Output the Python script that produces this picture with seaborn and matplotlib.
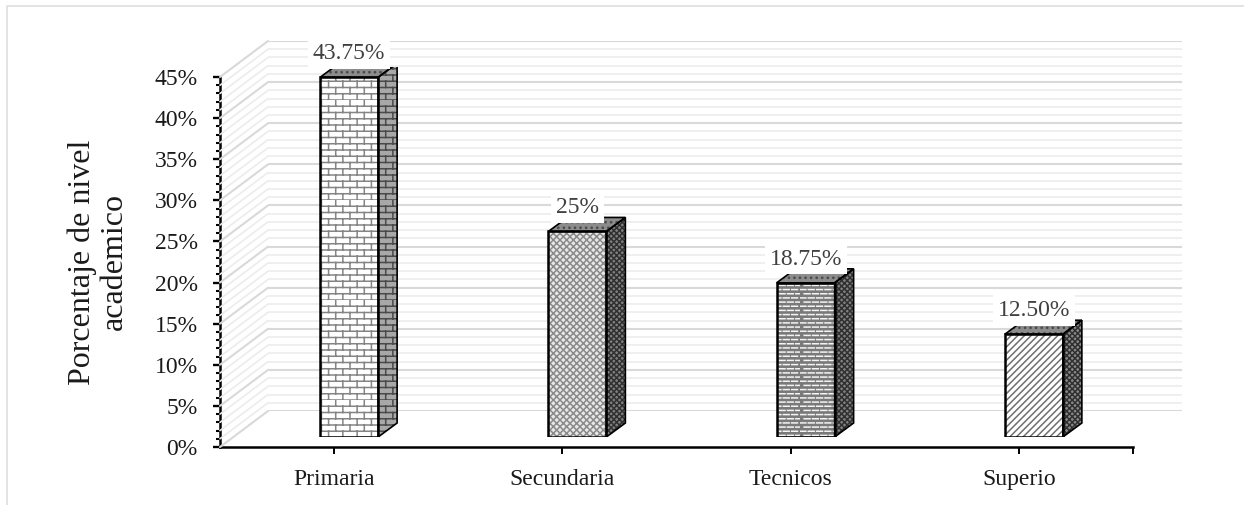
import numpy as np
import matplotlib
matplotlib.use("Agg")
import matplotlib.pyplot as plt
import matplotlib.hatch as mhatch
from matplotlib.path import Path
from matplotlib.patches import Polygon
from matplotlib.lines import Line2D
from matplotlib.ticker import MultipleLocator, PercentFormatter
import seaborn as sns

categories = ["Primaria", "Secundaria", "Tecnicos", "Superio"]
values = [43.75, 25, 18.75, 12.5]
value_labels = ["43.75%", "25%", "18.75%", "12.50%"]
y_ticks = [0, 5, 10, 15, 20, 25, 30, 35, 40, 45]


# brick and dash patterns are not in matplotlib, so add them
class BrickHatch(mhatch.HatchPatternBase):
    def __init__(self, hatch, density):
        self.num_vertices = 0
        self.rows = 16
        self.cols = 7
        if "B" in hatch:
            self.num_vertices = 2 * (self.rows + self.rows * self.cols)

    def set_vertices_and_codes(self, vertices, codes):
        v = []
        for r in range(self.rows):
            y0 = r / self.rows
            y1 = (r + 1) / self.rows
            v += [(0, y0), (1, y0)]
            shift = 0.5 * (r % 2)
            for c in range(self.cols):
                x = (c + shift) / self.cols
                v += [(x, y0), (x, y1)]
        vertices[:] = v
        codes[0::2] = Path.MOVETO
        codes[1::2] = Path.LINETO


class DashHatch(mhatch.HatchPatternBase):
    def __init__(self, hatch, density):
        self.num_vertices = 0
        self.rows = 24
        self.cols = 12
        if "D" in hatch:
            self.num_vertices = 2 * self.rows * self.cols

    def set_vertices_and_codes(self, vertices, codes):
        v = []
        for r in range(self.rows):
            y = (r + 0.5) / self.rows
            shift = 0.5 * (r % 2)
            for c in range(self.cols):
                x = (c + shift) / self.cols
                v += [(x, y), (min(x + 0.7 / self.cols, 1), y)]
        vertices[:] = v
        codes[0::2] = Path.MOVETO
        codes[1::2] = Path.LINETO


mhatch._hatch_types += [BrickHatch, DashHatch]
mhatch._validate_hatch_pattern = lambda h: None

sns.set_theme(style="white")
plt.rcParams["font.family"] = ["Liberation Serif", "DejaVu Serif"]
plt.rcParams["hatch.linewidth"] = 1.1

W, H = 1244, 505
fig = plt.figure(figsize=(W / 100, H / 100), dpi=100, facecolor="white")


def px_axes(x0, x1, ytop, ybot, **kw):
    return fig.add_axes([x0 / W, 1 - ybot / H, (x1 - x0) / W, (ybot - ytop) / H], **kw)


# figure border, only left and top show
fig.add_artist(Line2D([6.5 / W, 6.5 / W, 1], [0, 1 - 5.5 / H, 1 - 5.5 / H], transform=fig.transFigure,
                      color="#dedede", lw=1.2))

# back wall with the gridlines
wall = px_axes(268, 1182, 41, 411)
wall.set_xlim(0, 1)
wall.set_ylim(0, 45)
wall.patch.set_alpha(0)
wall.set_xticks([])
wall.yaxis.set_major_locator(MultipleLocator(5))
wall.yaxis.set_minor_locator(MultipleLocator(1))
wall.tick_params(which="both", left=False, labelleft=False)
wall.grid(which="major", axis="y", color="#d9d9d9", lw=1.5)
wall.grid(which="minor", axis="y", color="#ececec", lw=1.2)
sns.despine(ax=wall, left=True, bottom=True)

# front axes, only spines and tick labels
frame = px_axes(220, 1133, 77, 447)
frame.patch.set_alpha(0)
frame.set_xlim(-0.5, 3.5)
frame.set_ylim(0, 45)
frame.set_yticks(y_ticks)
frame.yaxis.set_major_formatter(PercentFormatter(decimals=0))
frame.yaxis.set_minor_locator(MultipleLocator(1))
frame.set_xticks(list(range(len(categories))) + [3.5])
frame.set_xticklabels(categories + [""])
frame.tick_params(axis="y", which="major", length=5, width=1.7, color="black", labelsize=17,
                  labelcolor="#1a1a1a", pad=11, direction="out", left=True)
frame.tick_params(axis="y", which="minor", length=3, width=1.5, color="black", direction="out", left=True)
frame.tick_params(axis="x", length=5, width=1.4, color="black", labelsize=17, labelcolor="#1a1a1a",
                  pad=11, bottom=True)
sns.despine(ax=frame)
for s in ["left", "bottom"]:
    frame.spines[s].set_linewidth(1.8)
    frame.spines[s].set_color("black")
frame.set_ylabel("Porcentaje de nivel\nacademico", fontsize=23, color="#1a1a1a", linespacing=1.15)
frame.yaxis.set_label_coords(-0.0997, 0.5)

# side wall lines joining front axis to the back wall
for v in range(0, 46):
    p0 = frame.transData.transform((-0.5, v))
    p1 = wall.transData.transform((0, v))
    major = v % 5 == 0
    fig.add_artist(Line2D([p0[0] / W, p1[0] / W], [p0[1] / H, p1[1] / H], transform=fig.transFigure,
                          color="#d9d9d9" if major else "#ececec", lw=1.5 if major else 1.2, zorder=0.5))

# bars
ax = px_axes(235, 1148, 67, 437)
ax.patch.set_alpha(0)
front_styles = [("B", "#858585", "white"), ("xxxxx", "#8a8a8a", "#e8e8e8"),
                ("D", "#f4f4f4", "#7a7a7a"), ("/////", "#707070", "white")]
side_styles = [("B", "#4a4a4a", "#a8a8a8"), ("xxxxxx", "#303030", "#808080"),
               ("xxxxxx", "#303030", "#808080"), ("xxxxxx", "#303030", "#8a8a8a")]
sns.barplot(x=categories, y=values, width=0.254, color="white", saturation=1, ax=ax, linewidth=0)
ax.set_xlim(-0.5, 3.5)
ax.set_ylim(0, 45)
ax.axis("off")
dx, dy = 19, 14
for i, bar in enumerate(ax.patches):
    hatch, hcolor, fcolor = front_styles[i]
    bar.set_facecolor(fcolor)
    bar.set_edgecolor(hcolor)
    bar.set_hatch(hatch)
    bar.set_linewidth(0)
    x0, y0 = ax.transData.transform((bar.get_x(), 0))
    x1, y1 = ax.transData.transform((bar.get_x() + bar.get_width(), bar.get_height()))
    hatch, hcolor, fcolor = side_styles[i]
    side = Polygon([(x1, y0), (x1 + dx, y0 + dy), (x1 + dx, y1 + dy), (x1, y1)], transform=None,
                   facecolor=fcolor, edgecolor=hcolor, hatch=hatch, lw=0, zorder=3)
    top = Polygon([(x0, y1), (x0 + dx, y1 + dy), (x1 + dx, y1 + dy), (x1, y1)], transform=None,
                  facecolor="#8c8c8c", edgecolor="#4a4a4a", hatch="...", lw=0, zorder=3)
    ax.add_patch(side)
    ax.add_patch(top)
    outlines = [
        [(x0, y0), (x1, y0), (x1, y1), (x0, y1)],
        [(x1, y0), (x1 + dx, y0 + dy), (x1 + dx, y1 + dy), (x1, y1)],
        [(x0, y1), (x0 + dx, y1 + dy), (x1 + dx, y1 + dy), (x1, y1)],
    ]
    for o, lw in zip(outlines, [1.8, 1.2, 1.2]):
        ax.add_patch(Polygon(o, transform=None, fill=False, edgecolor="black", lw=lw, zorder=4, joinstyle="miter"))
    ax.annotate(value_labels[i], xy=(bar.get_x() + bar.get_width() / 2, bar.get_height()),
                xytext=(0, 17), textcoords="offset points", ha="center", va="center",
                fontsize=17, color="#404040", zorder=6,
                bbox=dict(boxstyle="square,pad=0.2", facecolor="white", edgecolor="none"))

fig.savefig("out.png", dpi=100)
